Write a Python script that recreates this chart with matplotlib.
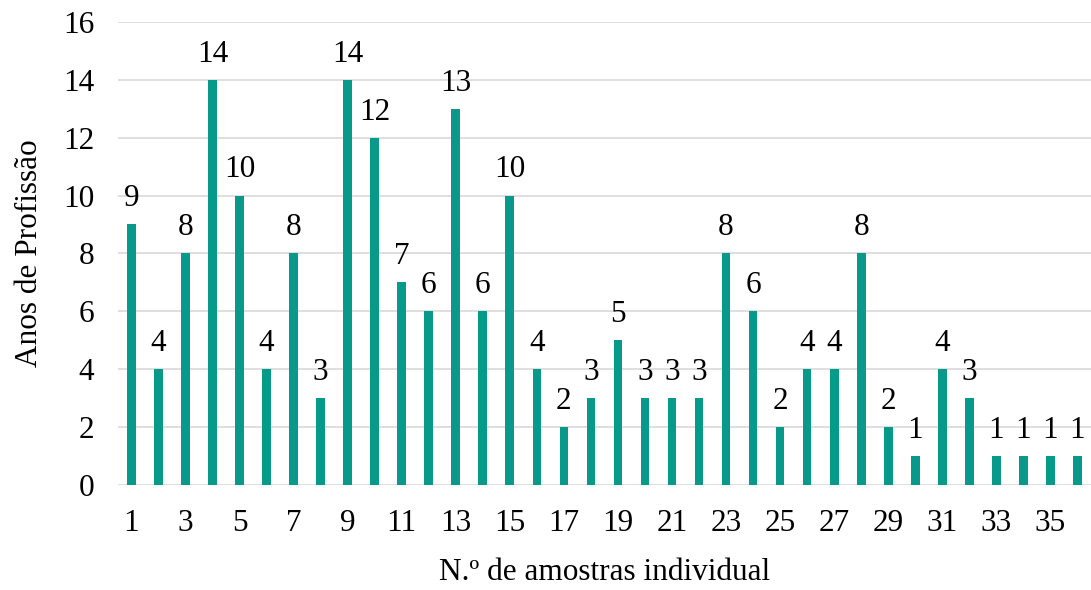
import numpy as np
import matplotlib.pyplot as plt

plt.rcParams['font.family'] = ['Liberation Serif', 'DejaVu Serif']

# data
amostras = list(range(1, 37))
anos = [9, 4, 8, 14, 10, 4, 8, 3, 14, 12, 7, 6, 13, 6, 10, 4, 2, 3,
        5, 3, 3, 3, 8, 6, 2, 4, 4, 8, 2, 1, 4, 3, 1, 1, 1, 1]
xticks = list(range(1, 37, 2))
yticks = list(range(0, 17, 2))

fig = plt.figure(figsize=(10.91, 5.90), dpi=100)
ax = fig.add_axes([0.108, 0.178, 0.892, 0.785])

bars = ax.bar(amostras, anos, width=0.32, color='#07998A', zorder=3)
ax.bar_label(bars, labels=[str(v) for v in anos], padding=8, fontsize=22.5)

ax.set_xlim(0.5, 36.5)
ax.set_ylim(0, 16)
ax.set_yticks(yticks)
ax.set_xticks(xticks)
ax.tick_params(axis='both', length=0, labelsize=22.5)
ax.tick_params(axis='x', pad=17)
ax.tick_params(axis='y', pad=17)
ax.grid(axis='y', color='#D9D9D9', linewidth=1.2, zorder=0)
for s in ax.spines.values():
    s.set_visible(False)

ax.set_xlabel('N.º de amostras individual', fontsize=22.5, labelpad=15)
ax.set_ylabel('Anos de Profissão', fontsize=22.5, labelpad=14)

fig.savefig('out.png', dpi=100)
